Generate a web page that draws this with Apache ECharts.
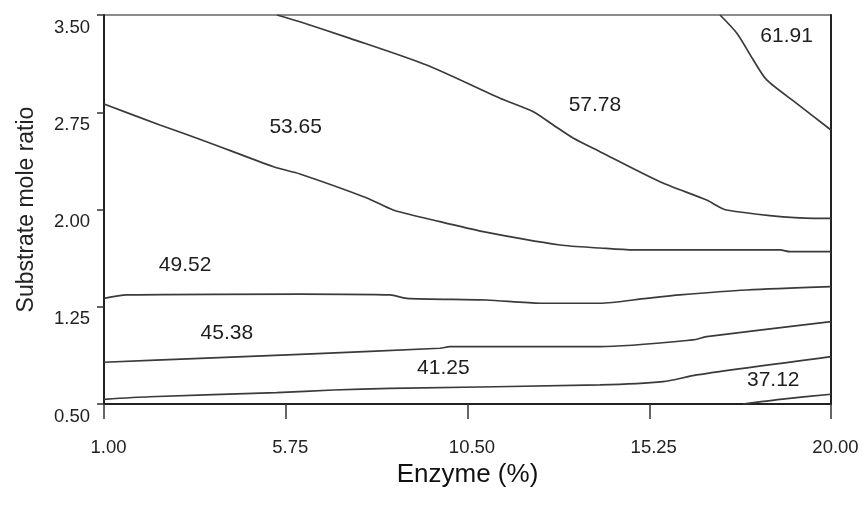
<!DOCTYPE html>
<html>
<head>
<meta charset="utf-8">
<script src="https://cdn.jsdelivr.net/npm/echarts@6/dist/echarts.min.js"></script>
<style>
html,body{margin:0;padding:0;background:#fff;}
#chart{width:864px;height:508px;}
</style>
</head>
<body>
<div id="chart"></div>
<script>
// Axis ticks
const enzymeTicks = [1.00, 5.75, 10.50, 15.25, 20.00];
const ratioTicks = [0.50, 1.25, 2.00, 2.75, 3.50];

// Contour levels
const contourLevels = ['37.12', '41.25', '45.38', '49.52', '53.65', '57.78', '61.91'];

// Contour lines: [enzyme %, substrate mole ratio]
const line3712 = [[17.7, 0.50], [18.67, 0.536], [20, 0.575]];
const line4125 = [[1, 0.536], [2.2, 0.556], [5.51, 0.587], [6.99, 0.608], [8.48, 0.621], [13.96, 0.647], [15.61, 0.672], [16.49, 0.724], [20, 0.865]];
const line4538 = [[1, 0.822], [3.51, 0.852], [6.12, 0.883], [9.78, 0.930], [10.04, 0.942], [13.96, 0.942], [16.39, 0.994], [16.75, 1.019], [20, 1.135]];
const line4952 = [[1, 1.315], [1.59, 1.341], [6.12, 1.348], [8.48, 1.341], [8.91, 1.315], [11.0, 1.302], [12.4, 1.277], [13.96, 1.277], [15.18, 1.315], [16.05, 1.341], [17.8, 1.379], [20, 1.405]];
const line5365 = [[1, 2.814], [2.46, 2.652], [3.68, 2.523], [5.43, 2.330], [6.12, 2.274], [7.87, 2.089], [8.56, 1.996], [9.60, 1.919], [10.91, 1.829], [12.92, 1.726], [13.96, 1.703], [14.83, 1.688], [18.67, 1.688], [18.93, 1.675], [20, 1.675]];
const line5778 = [[5.52, 3.5], [6.12, 3.448], [7.43, 3.320], [9.43, 3.114], [11.35, 2.858], [12.22, 2.754], [12.74, 2.652], [13.27, 2.549], [13.96, 2.446], [15.53, 2.214], [16.75, 2.073], [17.27, 1.996], [19.54, 1.932], [20, 1.932]];
const line6191 = [[17.10, 3.5], [17.54, 3.359], [17.97, 3.153], [18.32, 2.999], [19.10, 2.819], [20, 2.613]];

// Contour label positions
const labelX = [18.49, 9.87, 4.21, 3.12, 6.01, 13.83, 18.84];
const labelY = [0.685, 0.775, 1.045, 1.572, 2.636, 2.806, 3.338];

const contourLines = [line3712, line4125, line4538, line4952, line5365, line5778, line6191];

const regular = '"Liberation Sans", Arial, sans-serif';
const lineColor = '#3a3a3a';

const series = contourLines.map((pts, i) => ({
  type: 'line',
  name: contourLevels[i],
  data: pts,
  smooth: 0.25,
  showSymbol: false,
  symbol: 'none',
  lineStyle: { color: lineColor, width: 1.7 },
  silent: true,
  z: 3
}));

series.push({
  type: 'scatter',
  data: contourLevels.map((lv, i) => [labelX[i], labelY[i], lv]),
  symbolSize: 0,
  silent: true,
  itemStyle: { opacity: 1 },
  label: {
    show: true,
    position: 'inside',
    formatter: p => p.value[2],
    fontFamily: regular,
    fontSize: 21,
    color: '#1e1e1e',
    opacity: 1
  },
  z: 5
});

const chart = echarts.init(document.getElementById('chart'), null, { renderer: 'canvas' });
chart.setOption({
  animation: false,
  backgroundColor: '#fff',
  grid: {
    left: 104, right: 33, top: 15, bottom: 104,
    show: true, borderColor: '#666', borderWidth: 1.5, backgroundColor: 'transparent'
  },
  xAxis: {
    type: 'value',
    min: 1, max: 20,
    name: 'Enzyme (%)',
    nameLocation: 'middle',
    nameGap: 54,
    nameTextStyle: { fontFamily: regular, fontSize: 26, color: '#111' },
    axisLine: { show: true, onZero: false, lineStyle: { color: '#222', width: 2 } },
    axisTick: { show: true, length: 15, customValues: enzymeTicks, lineStyle: { color: '#333', width: 1.5 } },
    axisLabel: {
      customValues: enzymeTicks,
      formatter: v => v.toFixed(2),
      margin: 34,
      padding: [0, 0, 0, 9],
      fontFamily: regular, fontSize: 18.5, color: '#222'
    },
    splitLine: { show: false }
  },
  yAxis: [{
    type: 'value',
    min: 0.5, max: 3.5,
    name: 'Substrate mole ratio',
    nameLocation: 'middle',
    nameRotate: 90,
    nameGap: 66,
    nameTextStyle: { fontFamily: regular, fontSize: 23, color: '#222' },
    axisLine: { show: true, onZero: false, lineStyle: { color: '#222', width: 2 } },
    axisTick: { show: true, length: 7, customValues: ratioTicks, lineStyle: { color: '#333', width: 1.5 } },
    axisLabel: {
      customValues: ratioTicks,
      formatter: v => v.toFixed(2),
      margin: 14,
      verticalAlign: 'top',
      padding: [3, 0, 0, 0],
      fontFamily: regular, fontSize: 18.5, color: '#222'
    },
    splitLine: { show: false }
  }, {
    type: 'value',
    position: 'right',
    min: 0.5, max: 3.5,
    axisLine: { show: true, onZero: false, lineStyle: { color: '#222', width: 2 } },
    axisTick: { show: false },
    axisLabel: { show: false },
    splitLine: { show: false }
  }],
  series: series
});
</script>
</body>
</html>
